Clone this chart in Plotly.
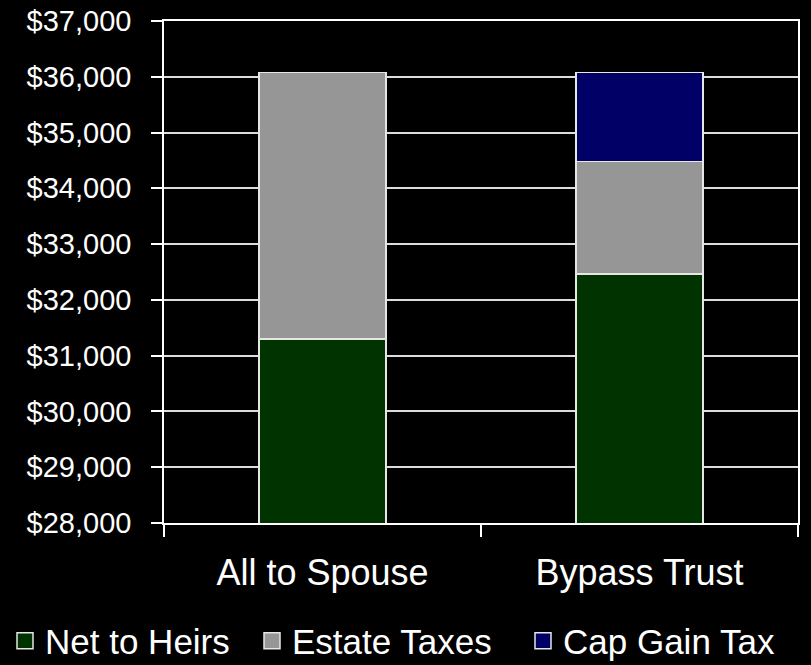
import plotly.graph_objects as go

# Estate outcome by strategy, stacked components (USD)
strategies = ["All to Spouse", "Bypass Trust"]
net_to_heirs = [31300, 32460]
estate_taxes = [4780, 2020]
cap_gain_tax = [0, 1600]

series_names = ["Net to Heirs", "Estate Taxes", "Cap Gain Tax"]
series_values = [net_to_heirs, estate_taxes, cap_gain_tax]
series_colors = ["#003300", "#969696", "#000066"]

y_min, y_max, y_step = 28000, 37000, 1000

FONT = "Liberation Sans, Arial, sans-serif"
OUTLINE = "#e6e6e6"

# Plot-area geometry in pixels, used to place the legend below it
W, H = 811, 665
M_L, M_R, M_T, M_B = 164, 13, 21, 142
plot_w = W - M_L - M_R
plot_h = H - M_T - M_B

fig = go.Figure()

for name, vals, color in zip(series_names, series_values, series_colors):
    fig.add_trace(go.Bar(
        x=strategies,
        y=vals,
        name=name,
        marker=dict(color=color, line=dict(color=OUTLINE, width=1.5)),
        showlegend=False,
    ))

# Legend entries with larger square swatches
legend_widths = [202, 226, 222]
for name, color, lw in zip(series_names, series_colors, legend_widths):
    fig.add_trace(go.Scatter(
        x=[None], y=[None], mode="markers", name=name,
        marker=dict(symbol="square", size=16, color=color,
                    line=dict(color=OUTLINE, width=1.5)),
        legendwidth=lw,
        showlegend=True,
    ))

fig.update_layout(
    width=W, height=H,
    barmode="stack",
    bargap=0.6,
    paper_bgcolor="black",
    plot_bgcolor="black",
    font=dict(family=FONT, color="white"),
    margin=dict(l=M_L, r=M_R, t=M_T, b=M_B, autoexpand=False),
    legend=dict(
        orientation="h",
        traceorder="normal",
        x=(5 - M_L) / plot_w, xanchor="left",
        y=-(641 - (H - M_B)) / plot_h, yanchor="middle",
        font=dict(family=FONT, size=35, color="white"),
        bgcolor="rgba(0,0,0,0)",
        itemsizing="trace",
    ),
    xaxis=dict(
        showline=True, linecolor="white", linewidth=1.5, mirror=True,
        ticks="outside", tickson="boundaries", ticklen=12, tickcolor="white",
        tickwidth=1.5,
        tickfont=dict(family=FONT, size=36, color="white"),
        ticklabelstandoff=17,
        showgrid=False,
        automargin=False,
    ),
    yaxis=dict(
        range=[y_min, y_max],
        dtick=y_step, tick0=y_min,
        tickprefix="$", tickformat=",d",
        showline=True, linecolor="white", linewidth=1.5, mirror=True,
        ticks="outside", ticklen=11, tickcolor="white", tickwidth=1.5,
        tickfont=dict(family=FONT, size=29, color="white"),
        ticklabelstandoff=14,
        showgrid=True, gridcolor="#dddddd", gridwidth=1.5,
        zeroline=False,
        automargin=False,
    ),
)

fig.write_html("out.html")
